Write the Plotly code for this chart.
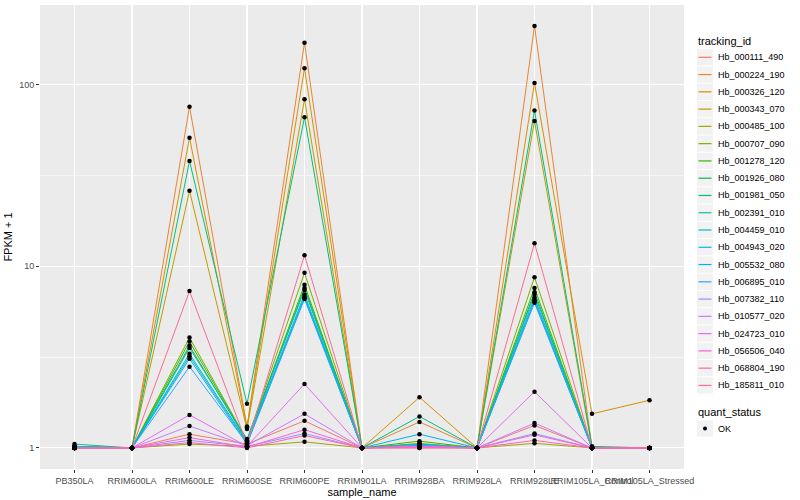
import plotly.graph_objects as go

samples = ['PB350LA', 'RRIM600LA', 'RRIM600LE', 'RRIM600SE', 'RRIM600PE', 'RRIM901LA',
           'RRIM928BA', 'RRIM928LA', 'RRIM928LE', 'RRIM105LA_Control', 'RRIM105LA_Stressed']

tracking_ids = ['Hb_000111_490', 'Hb_000224_190', 'Hb_000326_120', 'Hb_000343_070', 'Hb_000485_100',
                'Hb_000707_090', 'Hb_001278_120', 'Hb_001926_080', 'Hb_001981_050', 'Hb_002391_010',
                'Hb_004459_010', 'Hb_004943_020', 'Hb_005532_080', 'Hb_006895_010', 'Hb_007382_110',
                'Hb_010577_020', 'Hb_024723_010', 'Hb_056506_040', 'Hb_068804_190', 'Hb_185811_010']

colors = ['#F8766D', '#EA8331', '#D89000', '#C09B00', '#A3A500', '#7CAE00', '#39B600', '#00BB4E',
          '#00BF7D', '#00C1A3', '#00BFC4', '#00BAE0', '#00B0F6', '#35A2FF', '#9590FF', '#C77CFF',
          '#E76BF3', '#FA62DB', '#FF62BC', '#FF6C91']

# FPKM + 1 per tracking id, in the order of `samples`
hb_000111_490 = [1.00, 1.00, 1.19, 1.05, 1.41, 1.00, 1.03, 1.00, 1.33, 1.00, 1.00]
hb_000224_190 = [1.00, 1.00, 75.5, 1.31, 170.0, 1.00, 1.39, 1.00, 210.0, 1.00, 1.00]
hb_000326_120 = [1.00, 1.00, 51.0, 1.30, 123.0, 1.00, 1.90, 1.00, 102.0, 1.54, 1.83]
hb_000343_070 = [1.00, 1.00, 26.0, 1.27, 83.0, 1.00, 1.05, 1.00, 63.0, 1.00, 1.00]
hb_000485_100 = [1.02, 1.00, 1.05, 1.02, 1.08, 1.00, 1.06, 1.00, 1.06, 1.00, 1.00]
hb_000707_090 = [1.00, 1.00, 4.05, 1.10, 9.2, 1.00, 1.05, 1.00, 8.7, 1.00, 1.00]
hb_001278_120 = [1.00, 1.00, 3.85, 1.10, 7.9, 1.00, 1.09, 1.00, 7.6, 1.00, 1.00]
hb_001926_080 = [1.00, 1.00, 3.65, 1.09, 7.6, 1.00, 1.04, 1.00, 7.2, 1.00, 1.00]
hb_001981_050 = [1.02, 1.00, 38.0, 1.75, 66.0, 1.00, 1.49, 1.00, 72.0, 1.02, 1.00]
hb_002391_010 = [1.05, 1.00, 3.55, 1.12, 7.4, 1.00, 1.03, 1.00, 7.0, 1.00, 1.00]
hb_004459_010 = [1.02, 1.00, 3.30, 1.08, 7.0, 1.00, 1.03, 1.00, 6.7, 1.00, 1.00]
hb_004943_020 = [1.00, 1.00, 3.20, 1.07, 6.8, 1.00, 1.05, 1.00, 6.5, 1.00, 1.00]
hb_005532_080 = [1.00, 1.00, 3.10, 1.05, 6.7, 1.00, 1.19, 1.00, 6.3, 1.00, 1.00]
hb_006895_010 = [1.00, 1.00, 2.80, 1.06, 6.6, 1.00, 1.04, 1.00, 6.4, 1.00, 1.00]
hb_007382_110 = [1.00, 1.00, 1.10, 1.02, 1.20, 1.00, 1.02, 1.00, 1.20, 1.00, 1.00]
hb_010577_020 = [1.00, 1.00, 1.32, 1.03, 1.54, 1.00, 1.02, 1.00, 1.37, 1.00, 1.00]
hb_024723_010 = [1.00, 1.00, 1.52, 1.02, 2.25, 1.00, 1.02, 1.00, 2.04, 1.00, 1.00]
hb_056506_040 = [1.00, 1.00, 1.14, 1.01, 1.26, 1.00, 1.01, 1.00, 1.18, 1.00, 1.00]
hb_068804_190 = [1.00, 1.00, 1.07, 1.00, 1.17, 1.00, 1.00, 1.00, 1.10, 1.00, 1.00]
hb_185811_010 = [1.00, 1.00, 7.30, 1.05, 11.5, 1.00, 1.00, 1.00, 13.4, 1.00, 1.00]

series_values = [hb_000111_490, hb_000224_190, hb_000326_120, hb_000343_070, hb_000485_100,
                 hb_000707_090, hb_001278_120, hb_001926_080, hb_001981_050, hb_002391_010,
                 hb_004459_010, hb_004943_020, hb_005532_080, hb_006895_010, hb_007382_110,
                 hb_010577_020, hb_024723_010, hb_056506_040, hb_068804_190, hb_185811_010]

y_ticks = [1, 10, 100]
y_tick_labels = ['1', '10', '100']
quant_levels = ['OK']

FONT = 'Liberation Sans, Arial, sans-serif'
W, H = 800, 500
ML, MR, MT, MB = 40, 116, 5, 31

fig = go.Figure()

for tid, col, vals in zip(tracking_ids, colors, series_values):
    fig.add_trace(go.Scatter(x=samples, y=vals, mode='lines', name=tid,
                             line=dict(color=col, width=1), showlegend=False,
                             hoverinfo='skip'))
for tid, vals in zip(tracking_ids, series_values):
    fig.add_trace(go.Scatter(x=samples, y=vals, mode='markers', name=tid,
                             marker=dict(color='black', size=4.5), showlegend=False))

# manual ggplot-style legend
def px_x(px):
    return (px - ML) / (W - ML - MR)

def px_y(py):
    return (H - MB - py) / (H - MT - MB)

shapes = []
annotations = []
annotations.append(dict(text='tracking_id', x=px_x(696), y=px_y(41), xref='paper', yref='paper',
                        xanchor='left', yanchor='middle', showarrow=False,
                        font=dict(family=FONT, size=11, color='black')))
step = 17.27
y0 = 57.3
for i, (tid, col) in enumerate(zip(tracking_ids, colors)):
    yc = y0 + i * step
    shapes.append(dict(type='rect', xref='paper', yref='paper', x0=px_x(697), x1=px_x(713),
                       y0=px_y(yc - step / 2 + 0.5), y1=px_y(yc + step / 2 - 0.5),
                       fillcolor='#F2F2F2', line=dict(width=0), layer='above'))
    shapes.append(dict(type='line', xref='paper', yref='paper', x0=px_x(698.5), x1=px_x(711.5),
                       y0=px_y(yc), y1=px_y(yc), line=dict(color=col, width=1.2), layer='above'))
    annotations.append(dict(text=tid, x=px_x(716), y=px_y(yc), xref='paper', yref='paper',
                            xanchor='left', yanchor='middle', showarrow=False,
                            font=dict(family=FONT, size=9, color='black')))

annotations.append(dict(text='quant_status', x=px_x(696), y=px_y(411.5), xref='paper', yref='paper',
                        xanchor='left', yanchor='middle', showarrow=False,
                        font=dict(family=FONT, size=11, color='black')))
for j, lev in enumerate(quant_levels):
    yc = 428.5 + j * step
    shapes.append(dict(type='rect', xref='paper', yref='paper', x0=px_x(697), x1=px_x(713),
                       y0=px_y(yc - step / 2 + 0.5), y1=px_y(yc + step / 2 - 0.5),
                       fillcolor='#F2F2F2', line=dict(width=0), layer='above'))
    shapes.append(dict(type='circle', xref='paper', yref='paper', x0=px_x(703), x1=px_x(707),
                       y0=px_y(yc - 2), y1=px_y(yc + 2), fillcolor='black',
                       line=dict(width=0), layer='above'))
    annotations.append(dict(text=lev, x=px_x(716), y=px_y(yc), xref='paper', yref='paper',
                            xanchor='left', yanchor='middle', showarrow=False,
                            font=dict(family=FONT, size=9, color='black')))

fig.update_layout(
    width=W, height=H,
    margin=dict(l=ML, r=MR, t=MT, b=MB, autoexpand=False),
    paper_bgcolor='white', plot_bgcolor='#EBEBEB',
    font=dict(family=FONT, color='black'),
    showlegend=False, hovermode=False,
    shapes=shapes, annotations=annotations,
    xaxis=dict(type='category', categoryorder='array', categoryarray=samples,
               range=[-0.6, len(samples) - 0.4], showgrid=True, gridcolor='white', gridwidth=1.1,
               zeroline=False, showline=False, ticks='outside', ticklen=3, tickcolor='#333333',
               tickwidth=1, tickangle=0, automargin=False,
               tickfont=dict(family=FONT, size=9, color='#4D4D4D'),
               title=dict(text='sample_name', font=dict(family=FONT, size=11, color='black'),
                          standoff=2)),
    yaxis=dict(type='log', range=[-0.116, 2.438], tickvals=y_ticks, ticktext=y_tick_labels,
               showgrid=True, gridcolor='white', gridwidth=1.1, zeroline=False, showline=False,
               ticks='outside', ticklen=3, tickcolor='#333333', tickwidth=1, automargin=False,
               tickfont=dict(family=FONT, size=9, color='#4D4D4D'),
               minor=dict(tickvals=[10 ** 0.5, 10 ** 1.5], showgrid=True, gridcolor='white',
                          gridwidth=0.55, ticks=''),
               title=dict(text='FPKM + 1', font=dict(family=FONT, size=11, color='black'),
                          standoff=4)),
)

fig.write_html('out.html', config={'displayModeBar': False, 'staticPlot': True},
               post_script="document.body.style.margin='0';document.body.style.padding='0';")
